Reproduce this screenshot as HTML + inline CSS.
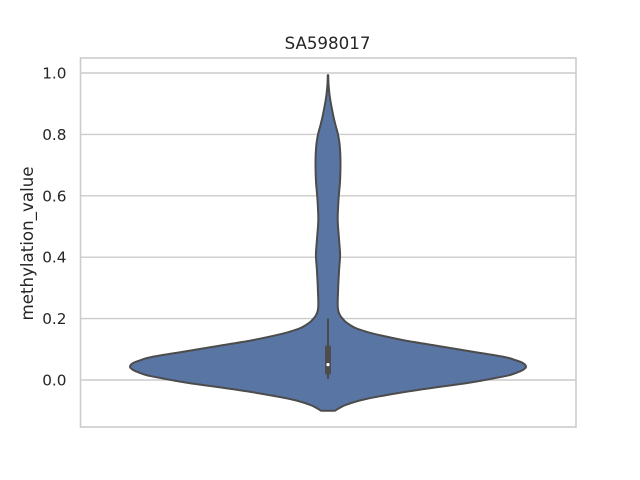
<!DOCTYPE html>
<html>
<head>
<meta charset="utf-8">
<style>
html,body{margin:0;padding:0;background:#fff;}
svg{display:block;}
text{font-family:"DejaVu Sans","Liberation Sans",sans-serif;fill:#262626;}
</style>
</head>
<body>
<svg id="chart" xmlns="http://www.w3.org/2000/svg" width="640" height="480" viewBox="0 0 640 480"></svg>
<script>
const yTicks = [0.0, 0.2, 0.4, 0.6, 0.8, 1.0];
const yTickLabels = ['0.0', '0.2', '0.4', '0.6', '0.8', '1.0'];
const violinValues = [-0.1, -0.081, -0.062, -0.04, -0.024, -0.009, 0.012, 0.022, 0.033, 0.043, 0.055, 0.065, 0.075, 0.094, 0.112, 0.13, 0.15, 0.162, 0.174, 0.195, 0.228, 0.293, 0.358, 0.407, 0.456, 0.521, 0.586, 0.651, 0.717, 0.765, 0.801, 0.83, 0.857, 0.896, 0.928, 0.961, 0.993];
const violinDensity = [0.035, 0.091, 0.192, 0.379, 0.545, 0.712, 0.89, 0.945, 0.985, 1, 0.985, 0.945, 0.89, 0.712, 0.545, 0.379, 0.235, 0.17, 0.125, 0.08, 0.051, 0.051, 0.056, 0.061, 0.056, 0.049, 0.053, 0.061, 0.063, 0.059, 0.05, 0.038, 0.028, 0.016, 0.008, 0.003, 0.001];
const whiskerRange = [0.003, 0.2];
const boxRange = [0.025, 0.105];
const medianValue = 0.05;
const titleText = 'SA598017';
const yAxisTitle = 'methylation_value';

const NS = 'http://www.w3.org/2000/svg';
const svg = document.getElementById('chart');
const plot = {left: 80.5, right: 576, top: 58, bottom: 427};
const yScale = v => 380 - v * 307;
const xScale = d => 328 + d * 198;

function make(tag, attrs, text) {
  const el = document.createElementNS(NS, tag);
  for (const k in attrs) el.setAttribute(k, attrs[k]);
  if (text !== undefined) el.textContent = text;
  svg.appendChild(el);
  return el;
}

function spline(pts) {
  let d = '';
  for (let i = 0; i < pts.length - 1; i++) {
    const p0 = pts[Math.max(i - 1, 0)], p1 = pts[i], p2 = pts[i + 1], p3 = pts[Math.min(i + 2, pts.length - 1)];
    const c1x = p1[0] + (p2[0] - p0[0]) / 6, c1y = p1[1] + (p2[1] - p0[1]) / 6;
    const c2x = p2[0] - (p3[0] - p1[0]) / 6, c2y = p2[1] - (p3[1] - p1[1]) / 6;
    d += 'C' + c1x.toFixed(2) + ' ' + c1y.toFixed(2) + ' ' + c2x.toFixed(2) + ' ' + c2y.toFixed(2) + ' ' + p2[0].toFixed(2) + ' ' + p2[1].toFixed(2);
  }
  return d;
}

yTicks.forEach((t, i) => {
  const y = yScale(t);
  const grid = make('line', {x1: plot.left, x2: plot.right, y1: y, y2: y, stroke: '#cccccc', 'stroke-width': 1.4});
  
  
  const label = make('text', {x: 66.5, y: y + 5.5, 'text-anchor': 'end', 'font-size': 15.28}, yTickLabels[i]);
  
  
});

const rightSide = violinValues.map((v, i) => [xScale(violinDensity[i]), yScale(v)]);
const leftSide = violinValues.map((v, i) => [xScale(-violinDensity[i]), yScale(v)]).reverse();
const violinPath = 'M' + rightSide[0][0].toFixed(2) + ' ' + rightSide[0][1].toFixed(2) + spline(rightSide) +
  'L' + leftSide[0][0].toFixed(2) + ' ' + leftSide[0][1].toFixed(2) + spline(leftSide) + 'Z';
const violin = make('path', {d: violinPath, fill: '#5975a4', stroke: '#4c4c4c', 'stroke-width': 2, 'stroke-linejoin': 'round'});



const whisker = make('line', {x1: xScale(0), x2: xScale(0), y1: yScale(whiskerRange[1]), y2: yScale(whiskerRange[0]), stroke: '#4c4c4c', 'stroke-width': 2});



const box = make('line', {x1: xScale(0), x2: xScale(0), y1: yScale(boxRange[1]), y2: yScale(boxRange[0]), stroke: '#4c4c4c', 'stroke-width': 6, 'stroke-linecap': 'round'});



const median = make('circle', {cx: xScale(0), cy: yScale(medianValue), r: 1.6, fill: '#ffffff'});



const frame = make('rect', {x: plot.left, y: plot.top, width: plot.right - plot.left, height: plot.bottom - plot.top, fill: 'none', stroke: '#cccccc', 'stroke-width': 1.6});



const title = make('text', {x: 327.5, y: 49, 'text-anchor': 'middle', 'font-size': 16.67}, titleText);



const yTitle = make('text', {transform: 'translate(33 243.5) rotate(-90)', 'text-anchor': 'middle', 'font-size': 16.67}, yAxisTitle);


</script>
</body>
</html>
